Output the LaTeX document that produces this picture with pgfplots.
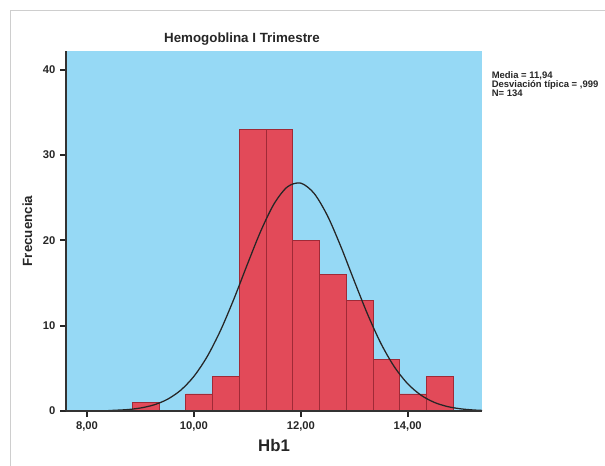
\documentclass[border=0pt]{standalone}
\usepackage{pgfplots}
\pgfplotsset{compat=1.18}
\usepackage{fontspec}
\setmainfont{Liberation Sans}
\definecolor{bg}{RGB}{150,217,245}
\definecolor{barfill}{RGB}{226,74,89}
\definecolor{bardraw}{RGB}{160,42,55}
\definecolor{framec}{RGB}{206,206,206}
\begin{document}
\begin{tikzpicture}[x=0.75pt,y=0.75pt]
\useasboundingbox (0,0) rectangle (605,466);
\draw[framec, line width=1.1pt] (10.5,0) -- (10.5,455.5) -- (605,455.5);
\begin{axis}[
  at={(49.5pt,41.25pt)}, anchor=south west,
  scale only axis, width=312pt, height=270pt,
  xmin=7.607, xmax=15.39, ymin=0, ymax=42.2,
  axis background/.style={fill=bg},
  axis x line*=bottom, axis y line*=left,
  axis line style={line width=1pt, black!80},
  axis on top,
  xtick={8,10,12,14}, xticklabels={{8,00},{10,00},{12,00},{14,00}},
  ytick={0,10,20,30,40}, yticklabels={0,10,20,30,40},
  tick align=outside, major tick length=4.5pt,
  tick style={line width=1.5pt, black!85},
  ticklabel style={font=\fontsize{8.4}{10}\selectfont\bfseries, text=black!85},
  xlabel={Hb1}, ylabel={Frecuencia},
  xlabel style={font=\fontsize{12.6}{14}\selectfont\bfseries, text=black!85, yshift=1pt},
  ylabel style={font=\fontsize{10}{12}\selectfont\bfseries, text=black!85, yshift=1pt},
]
\addplot[ybar interval, fill=barfill, draw=bardraw, line width=0.65pt] coordinates {
(8.85,1) (9.35,0) (9.85,2) (10.35,4) (10.85,33) (11.35,33) (11.85,20) (12.35,16) (12.85,13) (13.35,6) (13.85,2) (14.35,4) (14.85,4)};
\addplot[black!85, line width=0.95pt, smooth] coordinates {
(8.4,0.050) (8.75,0.163) (9.0,0.352) (9.25,0.713) (9.5,1.355) (9.75,2.420) (10.0,4.06) (10.25,6.40) (10.5,9.47) (10.75,13.16) (11.0,17.19) (11.25,21.08) (11.5,24.29) (11.75,26.28) (12.0,26.71) (12.25,25.50) (12.5,22.87) (12.75,19.26) (13.0,15.24) (13.25,11.33) (13.5,7.90) (13.75,5.18) (14.0,3.19) (14.25,1.847) (14.5,1.003) (14.75,0.512) (15.0,0.246) (15.25,0.111) (15.39,0.068)};
\end{axis}
\node[font=\fontsize{10}{12}\selectfont\bfseries, text=black!85] at (242,427) {Hemogoblina I Trimestre};
\node[anchor=north west, align=left, inner sep=0pt, font=\fontsize{7.1}{6.6}\selectfont\bfseries, text=black!85] at (491.5,394.5) {Media = 11,94\\Desviación típica = ,999\\N= 134};
\end{tikzpicture}
\end{document}
